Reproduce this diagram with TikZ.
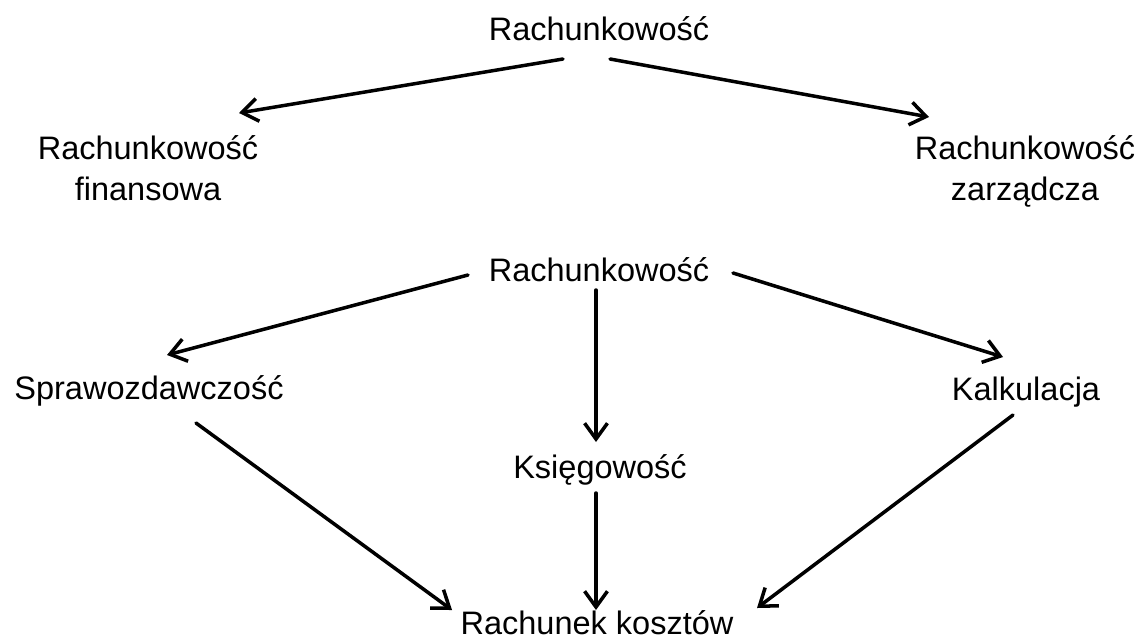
\documentclass[tikz,border=0pt]{standalone}
\usepackage{fontspec}
\usetikzlibrary{arrows.meta}
\newfontfamily\lbfamily{Liberation Sans}
\newcommand{\lbfont}{\lbfamily\fontsize{18.5}{22.8}\selectfont}
\tikzset{
  lbl/.style={font=\lbfont, inner sep=0pt, anchor=base, align=center},
  arr/.style={-{Straight Barb[length=9pt,width=13pt]}, line width=2pt, line cap=round},
}
\begin{document}
\begin{tikzpicture}[x=0.02cm,y=-0.02cm]
\useasboundingbox (0,0) rectangle (1141,640);
% labels (multi-line nodes are anchored at the baseline of their last line)
\node[lbl] (top)  at (599,40)  {Rachunkowość};
\node[lbl] (fin)  at (148,200) {Rachunkowość\\finansowa};
\node[lbl] (zarz) at (1025,200) {Rachunkowość\\zarządcza};
\node[lbl] (mid)  at (599,281) {Rachunkowość};
\node[lbl] (spr)  at (149,399) {Sprawozdawczość};
\node[lbl] (kal)  at (1026,400) {Kalkulacja};
\node[lbl] (ksi)  at (600,478) {Księgowość};
\node[lbl] (rk)   at (597,634) {Rachunek kosztów};
% connector end points
\coordinate (topL) at (563,59);
\coordinate (topR) at (610,59);
\coordinate (finT) at (239,113);
\coordinate (zarT) at (929,117);
\coordinate (midL) at (468,275);
\coordinate (midC) at (596,290);
\coordinate (midR) at (733,273);
\coordinate (sprT) at (167,355);
\coordinate (ksiT) at (596,442);
\coordinate (kalT) at (1003,357);
\coordinate (sprB) at (196,423);
\coordinate (ksiB) at (596,493);
\coordinate (kalB) at (1013,415);
\coordinate (rkL)  at (452,610);
\coordinate (rkC)  at (596,610);
\coordinate (rkR)  at (757,608);
% connectors
\draw[arr] (topL) -- (finT);
\draw[arr] (topR) -- (zarT);
\draw[arr] (midL) -- (sprT);
\draw[arr] (midC) -- (ksiT);
\draw[arr] (midR) -- (kalT);
\draw[arr] (sprB) -- (rkL);
\draw[arr] (ksiB) -- (rkC);
\draw[arr] (kalB) -- (rkR);
\end{tikzpicture}
\end{document}
